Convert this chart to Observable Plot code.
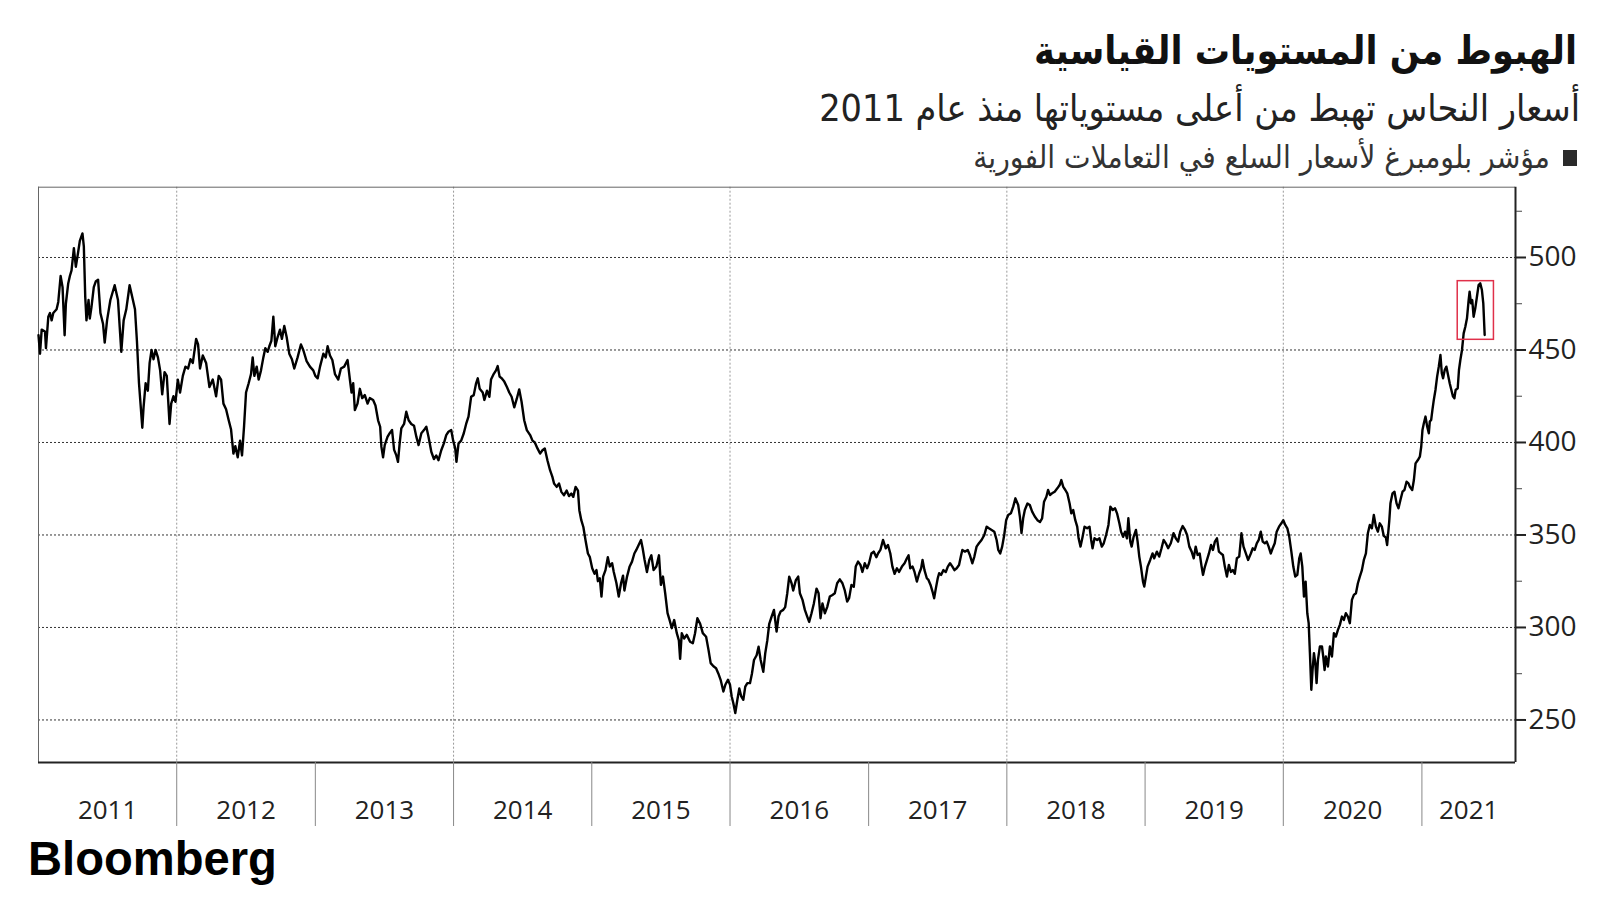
<!DOCTYPE html>
<html>
<head>
<meta charset="utf-8">
<script src="https://cdn.jsdelivr.net/npm/d3@7"></script>
<script src="https://cdn.jsdelivr.net/npm/@observablehq/plot@0.6"></script>
<style>
  html, body { margin: 0; padding: 0; background: #fff; }
  #page { position: relative; width: 1600px; height: 900px; overflow: hidden; background: #fff; }
  .hdr { position: absolute; white-space: nowrap; line-height: 1; font-family: "DejaVu Sans", "Noto Sans", sans-serif; font-stretch: condensed; direction: rtl; }
  #title { font-weight: bold; color: #111; font-size: 38px; }
  #subtitle { color: #222; font-size: 34px; }
  #legend { color: #333; font-size: 24px; }
  #swatch { position: absolute; background: #2a2a2a; }
  #logo { position: absolute; white-space: nowrap; line-height: 1; font-family: "Liberation Sans", Arial, sans-serif; font-weight: bold; color: #000; font-size: 47px; }
  #chart { position: absolute; left: 0; top: 170px; }
</style>
</head>
<body>
<div id="page">
  <div id="title" class="hdr">الهبوط من المستويات القياسية</div>
  <div id="subtitle" class="hdr">أسعار النحاس تهبط من أعلى مستوياتها منذ عام 2011</div>
  <div id="swatch"></div>
  <div id="legend" class="hdr">مؤشر بلومبرغ لأسعار السلع في التعاملات الفورية</div>
  <div id="chart"></div>
  <div id="logo">Bloomberg</div>
</div>
<script>
// ---------------- DATA ----------------
// Bloomberg copper spot subindex, [decimal year, index level]
const copperIndex = [
[2011.000,458],[2011.011,448],[2011.023,461],[2011.047,460],[2011.054,451],[2011.071,468],[2011.083,470],[2011.095,466],[2011.107,470],[2011.131,472],
[2011.143,476],[2011.160,490],[2011.174,484],[2011.189,458],[2011.198,475],[2011.215,486],[2011.227,490],[2011.239,493],[2011.256,505],[2011.270,495],
[2011.285,502],[2011.299,509],[2011.318,513],[2011.328,506],[2011.338,479],[2011.347,466],[2011.362,477],[2011.371,467],[2011.383,473],[2011.400,484],
[2011.414,487],[2011.431,488],[2011.448,470],[2011.467,464],[2011.479,454],[2011.496,466],[2011.520,477],[2011.551,485],[2011.575,477],[2011.599,449],
[2011.616,466],[2011.635,472],[2011.659,485],[2011.683,477],[2011.698,472],[2011.712,455],[2011.727,432],[2011.736,423],[2011.751,408],[2011.760,419],
[2011.775,432],[2011.791,428],[2011.804,443],[2011.818,450],[2011.832,445],[2011.847,450],[2011.864,446],[2011.880,439],[2011.895,426],[2011.912,438],
[2011.928,436],[2011.948,410],[2011.960,421],[2011.976,425],[2011.991,422],[2012.008,434],[2012.024,427],[2012.044,436],[2012.063,441],[2012.082,440],
[2012.099,445],[2012.116,443],[2012.140,456],[2012.154,453],[2012.168,440],[2012.188,447],[2012.212,443],[2012.236,430],[2012.260,434],[2012.284,425],
[2012.303,436],[2012.320,434],[2012.337,421],[2012.356,418],[2012.375,412],[2012.392,407],[2012.409,394],[2012.423,398],[2012.440,392],[2012.457,401],
[2012.471,393],[2012.486,409],[2012.500,427],[2012.519,432],[2012.536,437],[2012.548,446],[2012.560,436],[2012.577,441],[2012.591,434],[2012.608,439],
[2012.625,446],[2012.639,451],[2012.656,449],[2012.668,452],[2012.683,455],[2012.697,468],[2012.711,452],[2012.728,457],[2012.745,461],[2012.759,456],
[2012.776,463],[2012.793,457],[2012.812,448],[2012.831,445],[2012.848,440],[2012.872,446],[2012.896,453],[2012.913,450],[2012.937,444],[2012.961,441],
[2012.985,439],[2013.000,436],[2013.017,434.7],[2013.034,441],[2013.058,448],[2013.075,446],[2013.089,452],[2013.106,447],[2013.123,444.6],[2013.142,437],
[2013.166,434],[2013.185,440],[2013.209,441],[2013.233,444.6],[2013.250,434],[2013.262,427],[2013.274,432],[2013.286,417.5],[2013.305,421],[2013.322,429],
[2013.339,424],[2013.358,425.6],[2013.378,421],[2013.394,424],[2013.418,423],[2013.435,420],[2013.454,412],[2013.469,408.5],[2013.478,397.6],[2013.490,392],
[2013.502,398.6],[2013.522,403],[2013.538,405],[2013.555,406.7],[2013.570,396],[2013.586,393],[2013.598,389.5],[2013.610,399.5],[2013.622,407.6],[2013.642,410],
[2013.658,416.6],[2013.675,412],[2013.694,410],[2013.714,409],[2013.731,403],[2013.747,398.6],[2013.767,405],[2013.786,406.7],[2013.803,408.5],[2013.819,403],
[2013.839,395],[2013.858,391],[2013.875,393],[2013.891,390.4],[2013.911,395.8],[2013.930,399.5],[2013.947,404],[2013.963,405.8],[2013.983,406.7],[2013.997,401],
[2014.012,396.8],[2014.021,389.5],[2014.036,399.5],[2014.055,401],[2014.074,405],[2014.091,410],[2014.108,414],[2014.127,424.7],[2014.146,425.6],[2014.163,432],
[2014.175,434.7],[2014.189,429],[2014.211,427],[2014.223,423],[2014.242,428],[2014.259,424.7],[2014.271,434],[2014.290,437],[2014.307,439],[2014.319,441.3],
[2014.333,435.6],[2014.348,434.7],[2014.367,432.9],[2014.386,430],[2014.403,427],[2014.420,424.7],[2014.439,419],[2014.458,423.8],[2014.475,428.7],[2014.492,422],
[2014.511,412],[2014.530,406.7],[2014.554,404],[2014.571,401],[2014.588,400],[2014.607,396.8],[2014.626,394],[2014.643,395.8],[2014.660,396.8],[2014.679,390.4],
[2014.698,385],[2014.715,381.4],[2014.727,377.8],[2014.746,376],[2014.763,377.8],[2014.780,373.3],[2014.799,371.5],[2014.818,374],[2014.835,371],[2014.852,372.4],
[2014.866,370.6],[2014.883,376],[2014.900,374],[2014.910,363.4],[2014.924,358],[2014.939,354.3],[2014.955,347],[2014.972,340],[2014.986,338],[2015.003,332],
[2015.020,329],[2015.034,331],[2015.044,325],[2015.058,326.6],[2015.070,316.7],[2015.082,327.5],[2015.099,331],[2015.116,338],[2015.130,333],[2015.147,334.7],
[2015.159,330],[2015.178,324],[2015.195,316.7],[2015.212,324],[2015.226,328],[2015.236,320],[2015.255,327.5],[2015.274,333],[2015.291,335.6],[2015.308,340],
[2015.322,341.9],[2015.339,344.6],[2015.356,347.3],[2015.368,342.8],[2015.382,336.5],[2015.399,330],[2015.416,336.5],[2015.431,339],[2015.447,331],[2015.467,333],
[2015.486,339],[2015.500,323],[2015.515,327.5],[2015.531,318.5],[2015.548,307.7],[2015.563,304],[2015.579,299.6],[2015.596,304],[2015.615,296.9],[2015.630,293],
[2015.639,283],[2015.651,296.9],[2015.668,294],[2015.687,296],[2015.711,292.3],[2015.731,291.5],[2015.747,296.9],[2015.764,305],[2015.784,302],[2015.803,296.9],
[2015.827,295],[2015.844,288],[2015.860,280.7],[2015.880,279],[2015.899,278],[2015.916,275],[2015.932,271.7],[2015.952,265.4],[2015.966,269],[2015.985,271.7],
[2016.000,269],[2016.012,262.7],[2016.024,259],[2016.038,253.7],[2016.053,260.9],[2016.067,267],[2016.081,262.7],[2016.096,260.9],[2016.110,268],[2016.125,269.9],
[2016.144,269.9],[2016.158,275],[2016.173,282.4],[2016.192,285],[2016.206,289.6],[2016.221,282.4],[2016.240,276],[2016.254,286],[2016.269,293],[2016.283,302],
[2016.300,305.9],[2016.317,309.5],[2016.336,297.8],[2016.350,305.9],[2016.365,308.6],[2016.384,309.5],[2016.398,311],[2016.413,318.5],[2016.427,327.5],[2016.444,323.9],
[2016.456,320],[2016.475,325.6],[2016.492,327.5],[2016.504,318.5],[2016.523,314.9],[2016.540,309.5],[2016.557,305.9],[2016.571,303],[2016.588,307.7],[2016.605,313],
[2016.624,321],[2016.639,318.5],[2016.653,305],[2016.667,313],[2016.684,307.7],[2016.701,311],[2016.720,316.7],[2016.739,317.6],[2016.756,318.5],[2016.773,323.9],
[2016.792,326],[2016.811,323.9],[2016.828,320],[2016.845,314],[2016.859,315.8],[2016.876,323],[2016.893,322],[2016.907,332.9],[2016.924,335.6],[2016.941,333.8],
[2016.955,330],[2016.972,334.7],[2016.989,332],[2017.003,334.7],[2017.020,340],[2017.037,341],[2017.056,338],[2017.068,340],[2017.085,341.9],[2017.104,347.3],
[2017.124,342.8],[2017.140,344.6],[2017.157,340],[2017.172,332.9],[2017.188,329],[2017.205,332],[2017.220,330],[2017.241,332.9],[2017.260,334.7],[2017.277,337.4],
[2017.289,339],[2017.301,332],[2017.318,332.9],[2017.332,330],[2017.349,324.8],[2017.366,329.3],[2017.380,332],[2017.390,336.5],[2017.404,331],[2017.421,326.6],
[2017.433,325.7],[2017.448,323],[2017.462,319.4],[2017.474,315.8],[2017.486,321],[2017.500,326.6],[2017.510,329.3],[2017.524,328.4],[2017.541,331],[2017.558,330],
[2017.573,332.9],[2017.589,334.7],[2017.606,332.9],[2017.621,331],[2017.637,332],[2017.654,333.8],[2017.669,339],[2017.678,341.9],[2017.697,341],[2017.717,341.9],
[2017.733,339],[2017.750,334.7],[2017.765,338.3],[2017.781,343.7],[2017.798,345.5],[2017.817,347.3],[2017.837,350],[2017.854,354.5],[2017.870,353.6],[2017.890,352.7],
[2017.909,351.8],[2017.926,347.3],[2017.938,341.9],[2017.952,340],[2017.966,343.7],[2017.981,350],[2017.995,358],[2018.010,360.8],[2018.029,361.7],[2018.046,365.3],
[2018.062,369.8],[2018.082,366.2],[2018.094,360],[2018.106,351],[2018.118,359],[2018.130,363.5],[2018.149,367],[2018.166,366.2],[2018.183,362.6],[2018.202,360],
[2018.221,358],[2018.240,357],[2018.255,359],[2018.269,368],[2018.286,370.7],[2018.298,374.3],[2018.312,371.6],[2018.327,372.5],[2018.346,373.4],[2018.365,375.2],
[2018.382,377],[2018.394,379.7],[2018.408,376],[2018.423,374.3],[2018.437,372.5],[2018.454,367],[2018.466,361.7],[2018.480,363.5],[2018.495,358],[2018.509,354.5],
[2018.519,348.2],[2018.533,343.7],[2018.548,349],[2018.562,354.5],[2018.581,353.6],[2018.598,354.5],[2018.610,347.3],[2018.620,342.8],[2018.634,348.2],[2018.653,347.3],
[2018.670,348.2],[2018.687,343.7],[2018.701,345.5],[2018.718,350],[2018.735,355.4],[2018.749,365.3],[2018.766,363.5],[2018.783,364.4],[2018.797,361.7],[2018.814,356.3],
[2018.826,351.8],[2018.841,349],[2018.855,351.8],[2018.869,348.2],[2018.879,359],[2018.893,346.4],[2018.903,343.7],[2018.917,349],[2018.934,352.7],[2018.946,346.4],
[2018.958,338.3],[2018.970,332.9],[2018.985,324.8],[2018.994,322.1],[2019.006,327.5],[2019.018,332.9],[2019.037,336.5],[2019.054,340],[2019.066,337.4],[2019.085,341],
[2019.102,338.3],[2019.119,342.8],[2019.134,347.3],[2019.150,345.5],[2019.167,342.8],[2019.186,345.5],[2019.206,351],[2019.222,348.2],[2019.239,346.4],[2019.254,351.8],
[2019.272,354.8],[2019.289,352.7],[2019.304,350],[2019.320,343.7],[2019.337,341],[2019.352,337.4],[2019.366,343.7],[2019.380,339.2],[2019.395,340],[2019.409,332.9],
[2019.419,328.4],[2019.433,332.9],[2019.448,336.5],[2019.462,340],[2019.477,344.6],[2019.491,341.9],[2019.505,346.4],[2019.520,348.2],[2019.534,341],[2019.549,340],
[2019.563,339.2],[2019.577,332.9],[2019.592,327.5],[2019.606,333.8],[2019.621,330],[2019.635,331],[2019.649,329],[2019.664,337.4],[2019.681,338.3],[2019.697,350.9],
[2019.712,343.7],[2019.729,340],[2019.745,336.5],[2019.765,340],[2019.779,342.8],[2019.793,341.9],[2019.808,345.5],[2019.822,347.3],[2019.837,351.8],[2019.851,346.4],
[2019.866,345.5],[2019.880,346.4],[2019.894,343.7],[2019.909,340],[2019.923,342.8],[2019.938,345.5],[2019.952,351.8],[2019.969,354.5],[2019.986,356.3],[2020.000,358],
[2020.014,355.4],[2020.029,353.6],[2020.043,349],[2020.058,341],[2020.072,332.9],[2020.086,327.5],[2020.101,328.4],[2020.115,337.4],[2020.125,340],[2020.137,332.9],
[2020.149,316.7],[2020.161,324.8],[2020.173,307.7],[2020.183,302.3],[2020.192,286.1],[2020.202,266.3],[2020.211,277],[2020.221,286.1],[2020.231,280.7],[2020.240,269.9],
[2020.250,282.5],[2020.264,289.7],[2020.279,289.7],[2020.288,284.3],[2020.298,277],[2020.307,284.3],[2020.322,278.9],[2020.336,289.7],[2020.351,284.3],[2020.365,296.9],
[2020.379,295.1],[2020.394,298.7],[2020.408,301.4],[2020.423,305.9],[2020.437,304.1],[2020.451,307.7],[2020.466,305.9],[2020.480,302.3],[2020.495,314.9],[2020.509,317.6],
[2020.524,318.5],[2020.538,323.9],[2020.552,327.5],[2020.567,331],[2020.581,336.5],[2020.596,340],[2020.610,350.9],[2020.624,355.4],[2020.639,353.6],[2020.653,360.8],
[2020.668,354.5],[2020.682,351.8],[2020.696,356.3],[2020.711,354.5],[2020.725,349.5],[2020.740,348.6],[2020.749,344.6],[2020.764,357.2],[2020.773,367.1],[2020.788,372.5],
[2020.802,373.4],[2020.817,367.1],[2020.831,364.4],[2020.845,368.9],[2020.860,373.4],[2020.874,374.3],[2020.889,378.8],[2020.903,377.9],[2020.913,376.1],[2020.930,374.3],
[2020.942,379.7],[2020.954,388.7],[2020.971,390.5],[2020.985,392.3],[2020.995,397.7],[2021.004,406.8],[2021.014,410.4],[2021.026,414],[2021.038,408.6],[2021.050,405],
[2021.057,411.3],[2021.067,412.2],[2021.076,417.6],[2021.086,423],[2021.098,428.4],[2021.110,435.6],[2021.122,441],[2021.134,447.3],[2021.144,437.4],[2021.153,434.7],
[2021.165,439.2],[2021.177,441],[2021.189,436.5],[2021.201,432],[2021.213,428.4],[2021.225,424.8],[2021.235,423.9],[2021.244,428.4],[2021.259,429.3],[2021.268,439.2],
[2021.278,444.6],[2021.290,450],[2021.302,459],[2021.314,462.6],[2021.326,467.1],[2021.338,477],[2021.345,481.5],[2021.355,475.2],[2021.364,477],[2021.374,468],
[2021.386,472.5],[2021.398,478.8],[2021.410,485.1],[2021.422,486],[2021.434,482.4],[2021.444,475.2],[2021.454,458.1]
];
const yearLabels = [2011, 2012, 2013, 2014, 2015, 2016, 2017, 2018, 2019, 2020, 2021];
const yTicks = [250, 300, 350, 400, 450, 500];
const yMinorTicks = [275, 325, 375, 425, 475, 525];
const xGridYears = [2012, 2014, 2016, 2018, 2020];
const xDomainYears = [2011.0, 2021.677];
const yDomain = [227, 538];
const highlightBox = {t1: 2021.259, t2: 2021.521, v1: 455.5, v2: 487.2};

// ---------------- HELPERS ----------------
function toDate(y) {
  const yr = Math.floor(y);
  const s = Date.UTC(yr, 0, 1), e = Date.UTC(yr + 1, 0, 1);
  return new Date(s + (y - yr) * (e - s));
}
const series = copperIndex.map(([t, v]) => ({date: toDate(t), value: v}));
const xDomain = xDomainYears.map(toDate);
const yearStarts = yearLabels.slice(1).map(y => toDate(y));
const labelData = yearLabels.map(y => {
  const a = Math.max(y, xDomainYears[0]), b = Math.min(y + 1, xDomainYears[1]);
  return {date: toDate((a + b) / 2), label: String(y)};
});

const tickFont = '"Open Sans", "Noto Sans", sans-serif';

const chart = Plot.plot({
  width: 1600,
  height: 680,
  marginLeft: 38,
  marginRight: 85,
  marginTop: 16.7,
  marginBottom: 88,
  style: {background: "transparent", fontFamily: tickFont, color: "#222", overflow: "visible"},
  x: {type: "utc", domain: xDomain, axis: null},
  y: {domain: yDomain, axis: null},
  marks: [
    Plot.ruleY(yTicks, {stroke: "#333", strokeWidth: 1, strokeDasharray: "2,2"}),
    Plot.ruleX(xGridYears.map(toDate), {stroke: "#999", strokeWidth: 1, strokeDasharray: "2,2"}),
    Plot.ruleY([yDomain[1]], {stroke: "#666", strokeWidth: 1}),
    Plot.ruleX([xDomain[0]], {stroke: "#666", strokeWidth: 1}),
    Plot.ruleY([yDomain[0]], {stroke: "#222", strokeWidth: 2}),
    Plot.ruleX([xDomain[1]], {stroke: "#222", strokeWidth: 2}),
    Plot.axisX(yearStarts, {anchor: "bottom", tickSize: 64, tickFormat: () => "", stroke: "#888", strokeWidth: 1}),
    Plot.text(labelData, {x: "date", text: "label", frameAnchor: "bottom", dy: 48, lineAnchor: "middle", fontSize: 26, fill: "#222", fontFamily: tickFont}),
    Plot.axisY(yMinorTicks, {anchor: "right", tickSize: 6, tickFormat: () => "", stroke: "#444", strokeWidth: 1}),
    Plot.axisY(yTicks, {anchor: "right", tickSize: 10, tickPadding: 3, strokeWidth: 2, stroke: "#222", fontSize: 28, fill: "#222", fontFamily: tickFont}),
    Plot.line(series, {x: "date", y: "value", stroke: "#000", strokeWidth: 2.4, strokeLinejoin: "round"}),
    Plot.rect([highlightBox], {x1: d => toDate(d.t1), x2: d => toDate(d.t2), y1: "v1", y2: "v2", fill: "none", stroke: "#e0304a", strokeWidth: 1.5})
  ]
});
document.getElementById("chart").appendChild(chart);

// ---------------- HEADER / FOOTER LAYOUT ----------------
function place(id, opts) {
  const el = document.getElementById(id);
  if (opts.right !== undefined) el.style.right = opts.right + "px";
  if (opts.left !== undefined) el.style.left = opts.left + "px";
  let w = el.getBoundingClientRect().width;
  const fs = parseFloat(getComputedStyle(el).fontSize);
  const nfs = fs * opts.width / w;
  el.style.fontSize = nfs + "px";
  const h = el.getBoundingClientRect().height;
  el.style.top = (opts.cy - h / 2) + "px";
  return el;
}
place("title", {right: 23, width: 543, cy: 51});
place("subtitle", {right: 20, width: 761, cy: 109});
place("legend", {right: 50, width: 577, cy: 158});
const sw = document.getElementById("swatch");
sw.style.left = "1563px"; sw.style.top = "150px"; sw.style.width = "14px"; sw.style.height = "16px";
const logo = document.getElementById("logo");
logo.style.left = "28px";
{
  const w = logo.getBoundingClientRect().width;
  const fs = 47 * 249 / w;
  logo.style.fontSize = fs + "px";
  logo.style.top = (875 - 0.8465 * fs) + "px";
}
</script>
</body>
</html>
